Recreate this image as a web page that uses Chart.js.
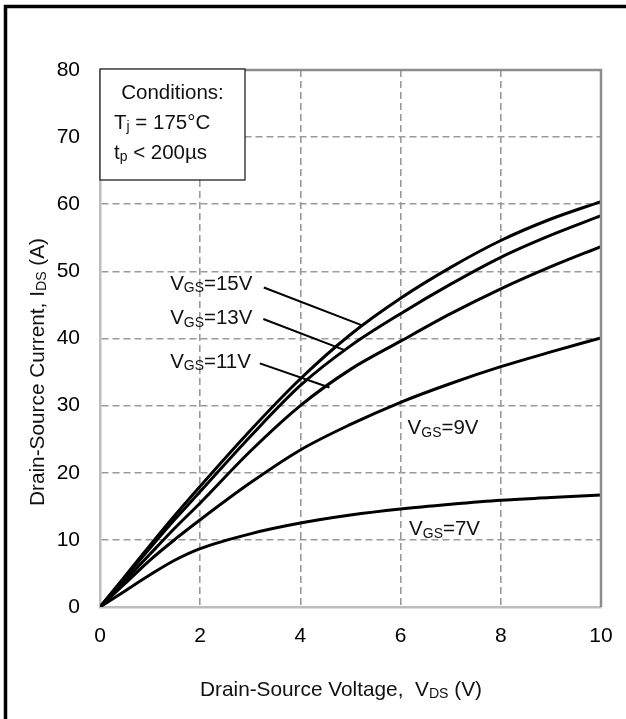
<!DOCTYPE html>
<html>
<head>
<meta charset="utf-8">
<script src="https://cdn.jsdelivr.net/npm/chart.js@4.4.1/dist/chart.umd.min.js"></script>
<style>
  html, body { margin: 0; padding: 0; background: #fff; }
  canvas { display: block; }
</style>
</head>
<body>
<canvas id="c" width="626" height="719"></canvas>
<script>
// ---- data ----
const vds = [0, 0.5, 1, 1.5, 2, 3, 4, 5, 6, 7, 8, 9, 10];
const ids15 = [0, 4.6, 9.2, 13.7, 18.0, 26.3, 34.0, 40.6, 46.0, 50.6, 54.6, 57.8, 60.4];
const ids13 = [0, 4.4, 8.8, 13.1, 17.2, 25.4, 33.0, 38.9, 43.7, 48.1, 52.1, 55.4, 58.3];
const ids11 = [0, 3.95, 7.9, 11.8, 15.5, 23.2, 30.0, 35.4, 39.6, 43.7, 47.4, 50.7, 53.7];
const ids9  = [0, 3.5, 7.0, 10.1, 13.0, 18.5, 23.4, 27.2, 30.5, 33.3, 35.8, 38.0, 40.1];
const ids7  = [0, 2.4, 4.8, 7.0, 8.7, 10.9, 12.5, 13.7, 14.6, 15.3, 15.9, 16.3, 16.7];
const xTicks = [0, 2, 4, 6, 8, 10];
const yTicks = [0, 10, 20, 30, 40, 50, 60, 70, 80];
const seriesNames = ['15V', '13V', '11V', '9V', '7V'];
// curve labels: [name, label x, label y, pointer start x, start y, end x, end y] in data units
const curveLabels = [
  ['15V', 1.40, 48.1, 3.27, 47.6, 5.22, 42.0],
  ['13V', 1.40, 43.0, 3.26, 42.9, 4.87, 38.3],
  ['11V', 1.40, 36.5, 3.19, 36.3, 4.58, 32.7],
  ['9V', 6.14, 26.6, null, null, null, null],
  ['7V', 6.17, 11.5, null, null, null, null]
];
const conditions = ['Conditions:', ['T', 'j', ' = 175°C'], ['t', 'p', ' < 200µs']];

const FONT = '"Liberation Sans", Arial, Helvetica, sans-serif';

function toPts(ys) { return vds.map((x, i) => ({ x: x, y: ys[i] })); }

function drawSub(ctx, parts, x, y, size, align) {
  const subSize = size * 0.68;
  let total = 0;
  const widths = parts.map(p => {
    ctx.font = (p[1] ? subSize : size) + 'px ' + FONT;
    const w = ctx.measureText(p[0]).width;
    total += w;
    return w;
  });
  let cx = x;
  if (align === 'center') cx = x - total / 2;
  else if (align === 'right') cx = x - total;
  ctx.textAlign = 'left';
  ctx.textBaseline = 'middle';
  parts.forEach((p, i) => {
    ctx.font = (p[1] ? subSize : size) + 'px ' + FONT;
    ctx.fillText(p[0], cx, p[1] ? y + size * 0.22 : y);
    cx += widths[i];
  });
}

const decor = {
  id: 'decor',
  afterDraw(chart) {
    const ctx = chart.ctx;
    const a = chart.chartArea;
    const xs = chart.scales.x, ys = chart.scales.y;
    ctx.save();
    // plot frame top & right
    ctx.strokeStyle = '#8c8c8c';
    ctx.lineWidth = 2.5;
    ctx.beginPath();
    ctx.moveTo(a.left, a.top);
    ctx.lineTo(a.right, a.top);
    ctx.lineTo(a.right, a.bottom);
    ctx.stroke();

    // outer black frame
    ctx.strokeStyle = '#000';
    ctx.lineWidth = 3.5;
    ctx.strokeRect(5.5, 6.5, 640, 740);

    // conditions box
    const bx = a.left, by = a.top - 1, bw = 145, bh = 111;
    ctx.fillStyle = '#fff';
    ctx.fillRect(bx, by, bw, bh);
    ctx.strokeStyle = '#222';
    ctx.lineWidth = 1.3;
    ctx.strokeRect(bx, by, bw, bh);
    ctx.fillStyle = '#111';
    drawSub(ctx, [[conditions[0], false]], bx + bw / 2, by + 24, 20.5, 'center');
    drawSub(ctx, [[conditions[1][0], false], [conditions[1][1], true], [conditions[1][2], false]], bx + 14, by + 54, 20.5, 'left');
    drawSub(ctx, [[conditions[2][0], false], [conditions[2][1], true], [conditions[2][2], false]], bx + 14, by + 84, 20.5, 'left');

    // curve labels and pointers
    curveLabels.forEach(l => {
      const px = xs.getPixelForValue(l[1]);
      const py = ys.getPixelForValue(l[2]);
      ctx.fillStyle = '#111';
      drawSub(ctx, [['V', false], ['GS', true], ['=' + l[0], false]], px, py, 20.5, 'left');
      if (l[3] !== null) {
        ctx.strokeStyle = '#000';
        ctx.lineWidth = 2;
        ctx.beginPath();
        ctx.moveTo(xs.getPixelForValue(l[3]), ys.getPixelForValue(l[4]));
        ctx.lineTo(xs.getPixelForValue(l[5]), ys.getPixelForValue(l[6]));
        ctx.stroke();
      }
    });

    // axis titles
    ctx.fillStyle = '#111';
    drawSub(ctx, [['Drain-Source Voltage,  V', false], ['DS', true], [' (V)', false]], 341, 690, 20.8, 'center');
    ctx.translate(38, 372);
    ctx.rotate(-Math.PI / 2);
    drawSub(ctx, [['Drain-Source Current, I', false], ['DS', true], [' (A)', false]], 0, 0, 20.8, 'center');
    ctx.restore();
  }
};

const colorFor = (edgeA, edgeB) => (c) => {
  const v = c.tick ? c.tick.value : null;
  return (v === edgeA || v === edgeB) ? 'rgba(0,0,0,0)' : '#9a9a9a';
};

new Chart(document.getElementById('c'), {
  type: 'scatter',
  data: {
    datasets: [ids15, ids13, ids11, ids9, ids7].map((d, i) => ({
      label: 'VGS=' + seriesNames[i],
      data: toPts(d),
      showLine: true,
      borderColor: '#000',
      borderWidth: 3,
      pointRadius: 0,
      fill: false,
      cubicInterpolationMode: 'monotone'
    }))
  },
  options: {
    responsive: false,
    animation: false,
    devicePixelRatio: 1,
    layout: { padding: { left: 0, right: 25, top: 70, bottom: 0 } },
    plugins: { legend: { display: false }, tooltip: { enabled: false } },
    scales: {
      x: {
        type: 'linear', min: 0, max: 10,
        afterFit: s => { s.height = 112; s.paddingLeft = 0; s.paddingRight = 0; },
        afterBuildTicks: s => { s.ticks = xTicks.map(v => ({ value: v })); },
        ticks: { padding: 17, color: '#000', font: { family: FONT, size: 21 }, maxRotation: 0 },
        grid: { color: colorFor(0, 10), lineWidth: 1.6, drawTicks: false },
        border: { display: true, color: '#bdbdbd', width: 2.5, dash: [7, 4] }
      },
      y: {
        type: 'linear', min: 0, max: 80,
        afterFit: s => { s.width = 100; s.paddingTop = 0; s.paddingBottom = 0; },
        afterBuildTicks: s => { s.ticks = yTicks.map(v => ({ value: v })); },
        ticks: { padding: 20, color: '#000', font: { family: FONT, size: 21 } },
        grid: { color: colorFor(0, 80), lineWidth: 1.6, drawTicks: false },
        border: { display: true, color: '#bdbdbd', width: 2.5, dash: [7, 4] }
      }
    }
  },
  plugins: [decor]
});
</script>
</body>
</html>
